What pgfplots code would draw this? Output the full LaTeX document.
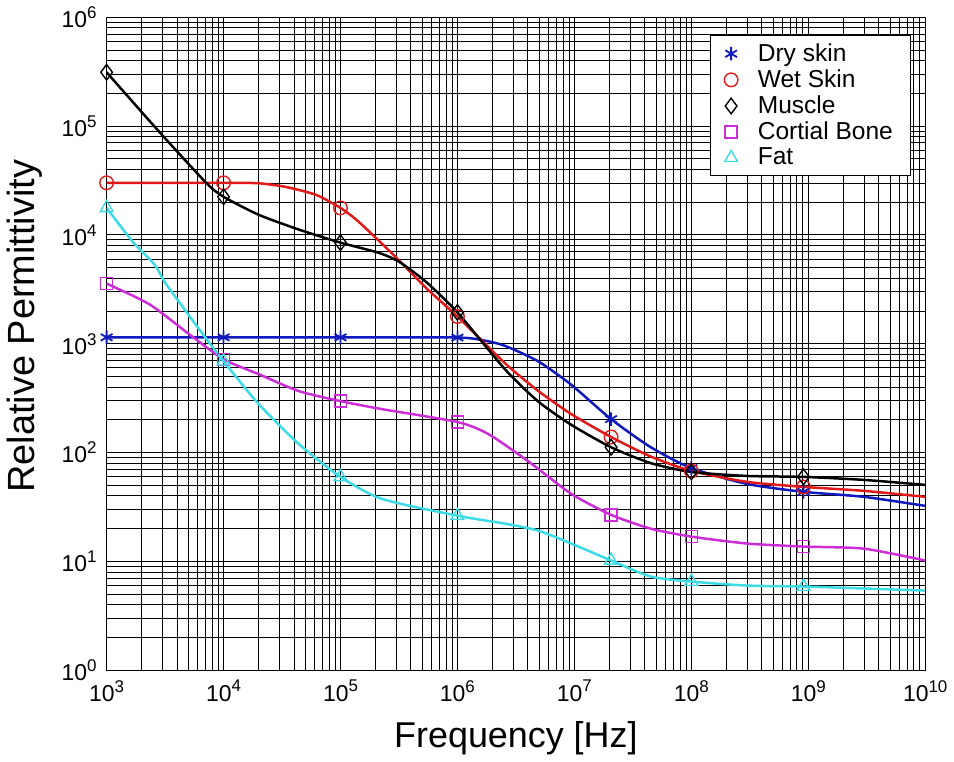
\documentclass[border=0pt]{standalone}
\usepackage{pgfplots}
\pgfplotsset{compat=1.18}
\usepackage{fontspec}
\setmainfont{Liberation Sans}
\definecolor{cdry}{RGB}{15,25,190}
\definecolor{cwet}{RGB}{225,25,25}
\definecolor{cmus}{RGB}{0,0,0}
\definecolor{cbone}{RGB}{205,45,215}
\definecolor{cfat}{RGB}{60,220,230}
\newcommand{\tp}[1]{10\raisebox{0.75ex}{\fontsize{8.5}{9}\selectfont #1}}
\begin{document}
\begin{tikzpicture}
\begin{axis}[
  scale only axis, width=410.5pt, height=327.5pt,
  xmode=log, ymode=log,
  xmin=1e3, xmax=1e10, ymin=1, ymax=1e6,
  grid=both,
  major grid style={black, line width=0.45pt},
  minor grid style={black, line width=0.45pt},
  axis line style={black, line width=0.5pt},
  tick align=inside, major tick length=0pt, minor tick length=0pt,
  xtick={1e3,1e4,1e5,1e6,1e7,1e8,1e9,1e10},
  xticklabels={\tp{3},\tp{4},\tp{5},\tp{6},\tp{7},\tp{8},\tp{9},\tp{10}},
  ytick={1,10,100,1000,1e4,1e5,1e6},
  yticklabels={\tp{0},\tp{1},\tp{2},\tp{3},\tp{4},\tp{5},\tp{6}},
  tick label style={font=\fontsize{11.5}{13}\selectfont},
  xticklabel style={yshift=-1.5pt},
  yticklabel style={xshift=-1.5pt},
  xlabel={Frequency [Hz]},
  ylabel={Relative Permittivity},
  xlabel style={font=\fontsize{18}{21}\selectfont, yshift=-3pt},
  ylabel style={font=\fontsize{19}{22}\selectfont, at={(ticklabel cs:0.527)}, yshift=3pt},
  legend style={at={(rel axis cs:0.983,0.973)}, anchor=north east, draw=black, line width=0.5pt,
    font=\fontsize{12.3}{13.5}\selectfont, row sep=-1.3pt, column sep=8pt, inner xsep=7pt, inner ysep=2pt},
  legend cell align=left,
  legend image code/.code={\draw[#1] plot coordinates {(0cm,0cm)};},
]
% ---- lines ----
\addplot[cdry, line width=1.25pt, smooth, tension=0.4, forget plot] coordinates {
(1e3,1145) (1e4,1145) (1e5,1145) (1e6,1140) (1.7e6,1070) (2.56e6,955) (4.9e6,690) (9.4e6,420) (2.06e7,203) (4.5e7,112) (1e8,72) (3e8,51.5) (9.1e8,43.6) (3e9,39.2) (1e10,32.4)};
\addplot[cwet, line width=1.25pt, smooth, tension=0.4, forget plot] coordinates {
(1e3,30100) (1e4,30100) (2e4,29800) (3.4e4,27600) (6.2e4,23300) (1e5,17700) (1.43e5,13200) (3e5,6190) (5.35e5,3280) (1e6,1780) (2.56e6,660) (4.9e6,369) (9.4e6,226) (2.06e7,139) (4.5e7,92) (1e8,67.9) (3e8,53.8) (9.1e8,48.4) (3e9,44.5) (1e10,39.2)};
\addplot[cmus, line width=1.25pt, smooth, tension=0.4, forget plot] coordinates {
(1e3,312000) (2.83e3,88100) (7.1e3,30100) (1e4,22400) (2e4,15300) (4.4e4,11200) (1e5,8490) (2.1e5,6870) (3.15e5,5690) (5.35e5,3730) (1e6,1940) (2.56e6,580) (4.9e6,295) (9.4e6,180) (2.06e7,112) (4.5e7,80) (1e8,66.4) (3e8,61) (9.1e8,59.8) (3e9,56.1) (1e10,50.5)};
\addplot[cbone, line width=1.25pt, smooth, tension=0.4, forget plot] coordinates {
(1e3,3570) (2.33e3,2300) (5.1e3,1220) (1e4,720) (2e4,525) (4.4e4,367) (1e5,297) (2.25e5,251) (1e6,191) (1.84e6,148) (4e6,83.7) (9.4e6,41.8) (2.06e7,26.8) (4.5e7,20) (1e8,16.9) (3e8,14.6) (9.1e8,13.7) (3e9,13.1) (1e10,10.2)};
\addplot[cfat, line width=1.25pt, smooth, tension=0.4, forget plot] coordinates {
(1e3,17700) (1.67e3,8670) (2.57e3,5330) (3.25e3,3500) (6.2e3,1355) (1e4,690) (2e4,279) (4.4e4,120) (1e5,59.8) (2.25e5,37.6) (1e6,26.3) (2.57e6,22.2) (4.9e6,19.2) (9.4e6,14.6) (2.06e7,10.2) (4.5e7,7.26) (1e8,6.53) (3e8,6.0) (9.1e8,5.88) (3e9,5.64) (1e10,5.40)};
% ---- markers ----
\addplot[only marks, mark=asterisk, mark size=3.4pt, mark options={cdry, line width=0.9pt}] coordinates {
(1e3,1145) (1e4,1145) (1e5,1145) (1e6,1140) (2.06e7,203) (1e8,72) (9.1e8,43.6)};
\addlegendentry{Dry skin}
\addplot[only marks, mark=o, mark size=3.4pt, mark options={cwet, line width=0.7pt}] coordinates {
(1e3,30100) (1e4,30100) (1e5,17700) (1e6,1780) (2.06e7,139) (1e8,67.9) (9.1e8,48.4)};
\addlegendentry{Wet Skin}
\addplot[only marks, mark=diamond, mark size=3.9pt, mark options={cmus, line width=0.7pt}] coordinates {
(1e3,312000) (1e4,22400) (1e5,8490) (1e6,1940) (2.06e7,112) (1e8,66.4) (9.1e8,59.8)};
\addlegendentry{Muscle}
\addplot[only marks, mark=square, mark size=3pt, mark options={cbone, line width=0.7pt}] coordinates {
(1e3,3570) (1e4,720) (1e5,297) (1e6,191) (2.06e7,26.8) (1e8,16.9) (9.1e8,13.7)};
\addlegendentry{Cortial Bone}
\addplot[only marks, mark=triangle, mark size=3.7pt, mark options={cfat, line width=0.7pt}] coordinates {
(1e3,17700) (1e4,690) (1e5,59.8) (1e6,26.3) (2.06e7,10.2) (1e8,6.53) (9.1e8,5.88)};
\addlegendentry{Fat}
\end{axis}
\end{tikzpicture}
\end{document}
